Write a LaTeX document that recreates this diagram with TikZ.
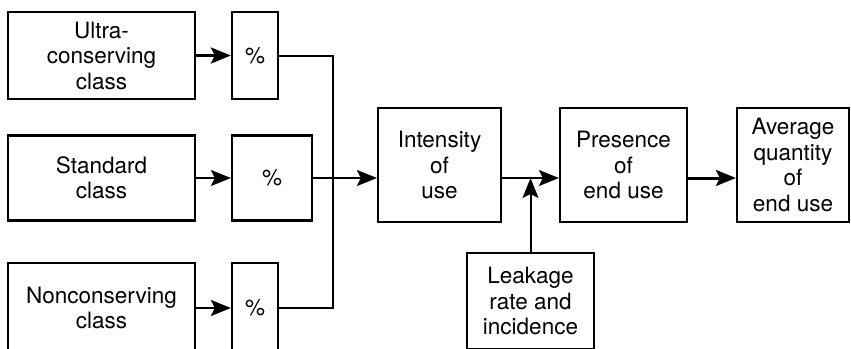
\documentclass[tikz,border=0pt]{standalone}
\usepackage{fontspec}
\setmainfont{TeX Gyre Heros}
\usetikzlibrary{arrows.meta, positioning}

\begin{document}
\begin{tikzpicture}[x=1pt, y=-1pt,
    box/.style={draw, line width=2.2pt, inner sep=0pt, align=center,
      font=\fontsize{22.5}{25.5}\selectfont},
    arr/.style={-{Stealth[length=20pt, width=16pt, inset=4pt]}, line width=2pt},
    bigarr/.style={arr, line width=3pt},
    link/.style={line width=2pt}]
      \clip (0,0) rectangle (851,348);

      % Nodes
      \node[box, minimum width=187pt, minimum height=87pt] (ultra) at (101.5, 55.5) {Ultra-\\conserving\\class};
      \node[box, minimum width=46pt, minimum height=87pt] (pcta) at (255, 55.5) {\%};
      \node[box, minimum width=187pt, minimum height=85pt] (std) at (101.5, 178) {Standard\\class};
      \node[box, minimum width=80pt, minimum height=85pt] (pctb) at (272, 178) {\%};
      \node[box, minimum width=187pt, minimum height=90pt] (non) at (101.5, 308) {Nonconserving\\class};
      \node[box, minimum width=46pt, minimum height=90pt] (pctc) at (255, 308) {\%};
      \node[box, minimum width=123pt, minimum height=114pt] (int) at (439.5, 165) {Intensity\\of\\use};
      \node[box, minimum width=127pt, minimum height=114pt] (pres) at (623.5, 165) {Presence\\of\\end use};
      \node[box, minimum width=112pt, minimum height=114pt] (avg) at (793, 165) {Average\\quantity\\of\\end use};
      \node[box, minimum width=127pt, minimum height=96pt] (leak) at (530.5, 301) {Leakage\\rate and\\incidence};
      \coordinate (merge) at (333, 178);

      % Edges
      \draw[bigarr] (ultra) -- (pcta);
      \draw[arr] (std) -- (pctb);
      \draw[arr] (non) -- (pctc);
      \draw[link] (pcta.east) -| (merge) |- (pctc.east);
      \draw[arr] (pctb.east) -- (merge) -- (merge -| int.west);
      \draw[arr] (int.east |- merge) -- (pres.west |- merge);
      \draw[arr] (leak.north) -- (leak.north |- merge);
      \draw[bigarr] (pres.east |- merge) -- (avg.west |- merge);

\end{tikzpicture}
\end{document}
